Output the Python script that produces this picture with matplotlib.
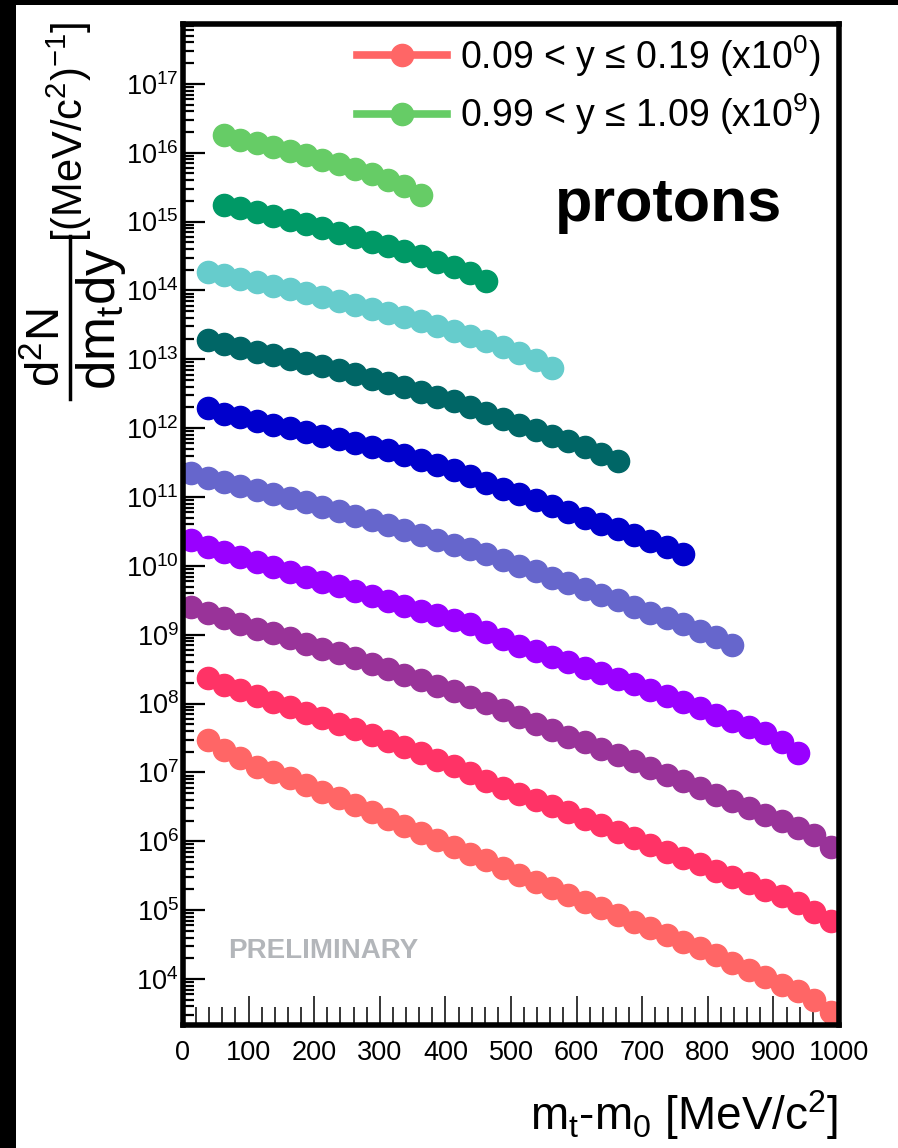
import numpy as np
import matplotlib
matplotlib.use('Agg')
import matplotlib.pyplot as plt
from matplotlib.patches import Rectangle
from matplotlib.lines import Line2D
from matplotlib.ticker import LogLocator, MultipleLocator, NullFormatter

plt.rcParams['font.family'] = ['Liberation Sans', 'DejaVu Sans']
plt.rcParams['mathtext.fontset'] = 'custom'
plt.rcParams['mathtext.rm'] = 'Liberation Sans'
plt.rcParams['mathtext.it'] = 'Liberation Sans'
plt.rcParams['mathtext.bf'] = 'Liberation Sans:bold'
plt.rcParams['mathtext.default'] = 'regular'

# mt-m0 bin centres [MeV/c^2]
mt_bins = [12.5, 37.5, 62.5, 87.5, 112.5, 137.5, 162.5, 187.5, 212.5, 237.5,
           262.5, 287.5, 312.5, 337.5, 362.5, 387.5, 412.5, 437.5, 462.5, 487.5,
           512.5, 537.5, 562.5, 587.5, 612.5, 637.5, 662.5, 687.5, 712.5, 737.5,
           762.5, 787.5, 812.5, 837.5, 862.5, 887.5, 912.5, 937.5, 962.5, 987.5]

# scaled spectra, lowest rapidity bin (x10^0) first
y_bin0 = [2.95e7, 2.14e7, 1.62e7, 1.20e7, 1.00e7, 8.32e6, 6.61e6, 5.25e6, 4.27e6, 3.39e6,
          2.63e6, 2.09e6, 1.66e6, 1.32e6, 1.05e6, 8.32e5, 6.61e5, 5.37e5, 4.07e5, 3.24e5,
          2.57e5, 2.09e5, 1.66e5, 1.32e5, 1.07e5, 8.51e4, 6.76e4, 5.50e4, 4.37e4, 3.47e4,
          2.82e4, 2.24e4, 1.70e4, 1.35e4, 1.07e4, 8.13e3, 6.61e3, 5.01e3, 3.31e3]
y_bin1 = [2.34e8, 1.86e8, 1.55e8, 1.29e8, 1.07e8, 8.91e7, 7.41e7, 6.17e7, 5.13e7, 4.27e7,
          3.47e7, 2.88e7, 2.34e7, 1.91e7, 1.51e7, 1.23e7, 9.77e6, 7.41e6, 6.03e6, 4.90e6,
          3.98e6, 3.24e6, 2.63e6, 2.14e6, 1.74e6, 1.38e6, 1.10e6, 8.91e5, 7.08e5, 5.75e5,
          4.68e5, 3.72e5, 3.02e5, 2.45e5, 1.95e5, 1.58e5, 1.26e5, 9.55e4, 6.92e4]
y_bin2 = [2.57e9, 2.09e9, 1.74e9, 1.45e9, 1.23e9, 1.05e9, 8.91e8, 7.41e8, 6.31e8, 5.37e8,
          4.57e8, 3.80e8, 3.16e8, 2.63e8, 2.19e8, 1.82e8, 1.51e8, 1.26e8, 1.02e8, 8.13e7,
          6.46e7, 5.13e7, 4.17e7, 3.31e7, 2.75e7, 2.19e7, 1.78e7, 1.45e7, 1.15e7, 9.12e6,
          7.41e6, 5.89e6, 4.68e6, 3.80e6, 3.02e6, 2.40e6, 1.95e6, 1.55e6, 1.23e6, 8.32e5]
y_bin3 = [2.40e10, 1.91e10, 1.58e10, 1.35e10, 1.15e10, 9.55e9, 8.13e9, 6.92e9, 5.89e9, 5.13e9,
          4.37e9, 3.63e9, 3.09e9, 2.63e9, 2.24e9, 1.95e9, 1.66e9, 1.41e9, 1.10e9, 8.71e8,
          6.92e8, 5.75e8, 4.79e8, 3.98e8, 3.31e8, 2.75e8, 2.29e8, 1.91e8, 1.58e8, 1.29e8,
          1.05e8, 8.51e7, 6.92e7, 5.62e7, 4.57e7, 3.72e7, 2.75e7, 1.91e7]
y_bin4 = [2.24e11, 1.91e11, 1.66e11, 1.45e11, 1.26e11, 1.12e11, 9.77e10, 8.51e10, 7.24e10, 6.31e10,
          5.37e10, 4.68e10, 3.89e10, 3.31e10, 2.82e10, 2.40e10, 2.00e10, 1.78e10, 1.48e10, 1.23e10,
          1.00e10, 8.32e9, 6.76e9, 5.62e9, 4.68e9, 3.80e9, 3.16e9, 2.57e9, 2.09e9, 1.74e9,
          1.41e9, 1.15e9, 9.33e8, 7.08e8]
y_bin5 = [1.95e12, 1.62e12, 1.45e12, 1.26e12, 1.12e12, 1.00e12, 8.91e11, 7.76e11, 6.92e11, 6.17e11,
          5.37e11, 4.79e11, 4.07e11, 3.47e11, 2.95e11, 2.45e11, 2.00e11, 1.58e11, 1.32e11, 1.10e11,
          9.12e10, 7.41e10, 6.03e10, 5.01e10, 4.07e10, 3.39e10, 2.82e10, 2.29e10, 1.91e10, 1.51e10]
y_bin6 = [1.91e13, 1.66e13, 1.45e13, 1.29e13, 1.15e13, 1.02e13, 8.91e12, 7.94e12, 6.92e12, 6.03e12,
          5.25e12, 4.57e12, 3.98e12, 3.39e12, 2.88e12, 2.45e12, 2.04e12, 1.66e12, 1.35e12, 1.12e12,
          9.33e11, 7.76e11, 6.46e11, 5.25e11, 4.27e11, 3.31e11]
y_bin7 = [1.86e14, 1.66e14, 1.48e14, 1.32e14, 1.17e14, 1.05e14, 9.12e13, 8.13e13, 7.08e13, 6.17e13,
          5.37e13, 4.68e13, 4.17e13, 3.63e13, 3.09e13, 2.57e13, 2.19e13, 1.82e13, 1.51e13, 1.23e13,
          9.77e12, 7.59e12]
y_bin8 = [1.74e15, 1.55e15, 1.38e15, 1.20e15, 1.05e15, 9.33e14, 8.13e14, 6.92e14, 6.03e14, 5.13e14,
          4.47e14, 3.72e14, 3.16e14, 2.63e14, 2.19e14, 1.78e14, 1.38e14]
y_bin9 = [1.82e16, 1.55e16, 1.38e16, 1.20e16, 1.05e16, 9.12e15, 7.94e15, 6.76e15, 5.75e15, 4.90e15,
          4.07e15, 3.24e15, 2.45e15]

# index of first mt bin for each rapidity bin
first_bin = [1, 1, 0, 0, 0, 1, 1, 1, 2, 2]
spectra = [y_bin0, y_bin1, y_bin2, y_bin3, y_bin4, y_bin5, y_bin6, y_bin7, y_bin8, y_bin9]
colors = ['#FF6666', '#FF3366', '#993399', '#9900FF', '#6666CC',
          '#0000CC', '#006666', '#66CCCC', '#009966', '#66CC66']
legend_labels = ['0.09 < y ≤ 0.19 (x10$^{0}$)', '0.99 < y ≤ 1.09 (x10$^{9}$)']

W, H = 898, 1148
fig = plt.figure(figsize=(W / 100, H / 100), dpi=100)
fig.patch.set_facecolor('black')
fig.add_artist(Rectangle((16 / W, 0), 1, 1 - 5 / H, transform=fig.transFigure,
                         facecolor='white', edgecolor='none', zorder=0))

ax = fig.add_axes([183 / W, 1 - 1025 / H, (839 - 183) / W, (1025 - 24) / H])

handles = []
for k, (i0, vals, col) in enumerate(zip(first_bin, spectra, colors)):
    x = mt_bins[i0:i0 + len(vals)]
    h, = ax.plot(x, vals, '-o', color=col, mec=col, ms=16, lw=5.5, zorder=3 + k)
    handles.append(h)

ax.set_yscale('log')
ax.set_xlim(0, 1000)
ax.set_ylim(2.15e3, 7.4e17)

ax.xaxis.set_major_locator(MultipleLocator(100))
ax.xaxis.set_minor_locator(MultipleLocator(20))
ax.yaxis.set_major_locator(LogLocator(base=10, numticks=30))
ax.yaxis.set_minor_locator(LogLocator(base=10, subs=np.arange(2, 10), numticks=30))
ax.yaxis.set_minor_formatter(NullFormatter())

ax.tick_params(axis='y', which='major', direction='in', length=16, width=1.6,
               labelsize=19.5, pad=3, right=False)
ax.tick_params(axis='y', which='minor', direction='in', length=8, width=1.6, right=False)
ax.tick_params(axis='x', which='major', direction='in', length=21, width=1.1,
               labelsize=19.5, pad=11, top=False)
ax.tick_params(axis='x', which='minor', direction='in', length=13, width=1.1, top=False)
for sp in ax.spines.values():
    sp.set_linewidth(4)
    sp.set_zorder(20)

# legend: first and last rapidity bin
ax.legend([handles[0], handles[-1]], legend_labels, loc='upper left',
          bbox_to_anchor=(357 / W, 1 - 33 / H), bbox_transform=fig.transFigure,
          frameon=False, fontsize=27, handlelength=2.4, handletextpad=0.35,
          labelspacing=0.35, borderpad=0, borderaxespad=0)

fig.text(669 / W, 1 - 221 / H, 'protons', fontsize=44, fontweight='bold',
         ha='center', va='baseline')
fig.text(323 / W, 1 - 951 / H, 'PRELIMINARY', fontsize=20, fontweight='bold',
         color='#B3B6BA', ha='center', va='center')

fig.text(838 / W, 1 - 1130 / H, 'm$_{t}$-m$_{0}$ [MeV/c$^{2}$]', fontsize=33,
         ha='right', va='baseline')

# y-axis title, ROOT style: big fraction drawn by hand plus units
fig.add_artist(Line2D([70 / W, 70 / W], [1 - 236 / H, 1 - 399 / H],
                      transform=fig.transFigure, color='black', lw=2.5))
fig.text(70 / W, 1 - 348 / H, 'd$^{2}$N', fontsize=34, rotation=90,
         ha='right', va='center')
fig.text(74 / W, 1 - 318 / H, 'dm$_{t}$dy', fontsize=38, rotation=90,
         ha='left', va='center')
fig.text(69 / W, 1 - 132 / H, '[(MeV/c$^{2}$)$^{-1}$]', fontsize=30,
         rotation=90, ha='center', va='center')

fig.savefig('out.png', dpi=100, facecolor=fig.get_facecolor())
